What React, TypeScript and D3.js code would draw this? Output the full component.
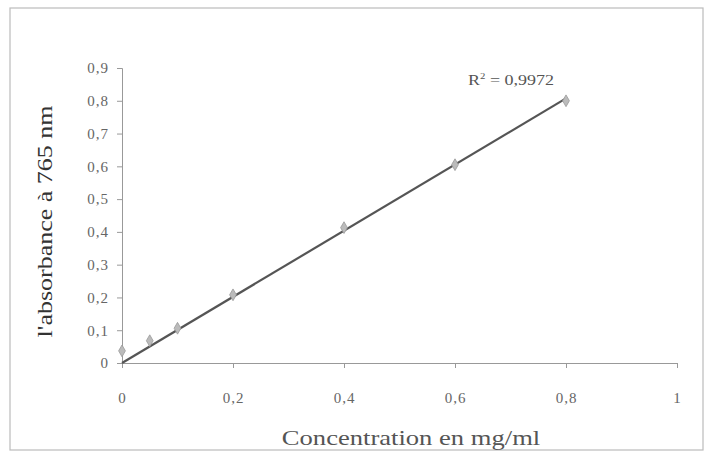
import React, { useEffect, useRef } from "react";
import * as d3 from "d3";

// standard points
const concentrations = [0, 0.05, 0.1, 0.2, 0.4, 0.6, 0.8];
const absorbances = [0.037, 0.068, 0.106, 0.208, 0.413, 0.605, 0.8];
const xTicks = [0, 0.2, 0.4, 0.6, 0.8, 1];
const yTicks = [0, 0.1, 0.2, 0.3, 0.4, 0.5, 0.6, 0.7, 0.8, 0.9];
const r2Label = "0,9972";

const W = 707;
const H = 458;
const fmt = (v: number) => String(v).replace(".", ",");

export default function App() {
  const ref = useRef<SVGSVGElement>(null);

  useEffect(() => {
    const svg = d3.select(ref.current);
    svg.selectAll("*").remove();

    const x = d3.scaleLinear().domain([0, 1]).range([122, 677]);
    const y = d3.scaleLinear().domain([0, 0.9]).range([363, 68]);

    // outer frame
    svg.append("rect")
      .attr("x", 10).attr("y", 8)
      .attr("width", 693).attr("height", 442)
      .attr("fill", "white")
      .attr("stroke", "#bbb")
      .attr("stroke-width", 1.2);

    const font = "'Liberation Serif', 'Times New Roman', serif";

    // y axis
    const yAxis = svg.append("g")
      .attr("transform", `translate(${x(0)},0)`)
      .call(d3.axisLeft(y).tickValues(yTicks).tickSize(5).tickPadding(8).tickFormat(d => fmt(+d)));
    // x axis
    const xAxis = svg.append("g")
      .attr("transform", `translate(0,${y(0)})`)
      .call(d3.axisBottom(x).tickValues(xTicks).tickSize(5).tickPadding(24).tickFormat(d => fmt(+d)));

    [yAxis, xAxis].forEach(g => {
      g.selectAll("path").attr("stroke", "#999").attr("stroke-width", 1);
      g.selectAll("line").attr("stroke", "#999");
      g.selectAll("text")
        .attr("fill", "#666")
        .attr("font-family", font)
        .attr("font-size", 15)
        .attr("letter-spacing", 1);
    });

    // linear fit through origin
    const slope = d3.sum(concentrations, (c, i) => c * absorbances[i]) /
      d3.sum(concentrations, c => c * c);
    const xMax = d3.max(concentrations) as number;
    svg.append("line")
      .attr("x1", x(0)).attr("y1", y(0))
      .attr("x2", x(xMax)).attr("y2", y(slope * xMax))
      .attr("stroke", "#555")
      .attr("stroke-width", 2.2);

    // diamond markers
    const diamond = d3.symbol().type(d3.symbolDiamond).size(40);
    svg.append("g")
      .selectAll("path")
      .data(concentrations)
      .enter()
      .append("path")
      .attr("d", diamond)
      .attr("transform", (c, i) => `translate(${x(c)},${y(absorbances[i])})`)
      .attr("fill", "#bbb")
      .attr("stroke", "#999")
      .attr("stroke-width", 0.8);

    // R² label
    const r2 = svg.append("text")
      .attr("transform", "translate(468,85) scale(1.2,1)")
      .attr("font-family", font)
      .attr("font-size", 15)
      .attr("fill", "#555");
    r2.append("tspan").text("R");
    r2.append("tspan").attr("dy", -6).attr("font-size", 9).text("2");
    r2.append("tspan").attr("dy", 6).text(` = ${r2Label}`);

    // axis titles (glyphs stretched along the baseline like the scan)
    svg.append("text")
      .attr("transform", `translate(52,${(y(0) + y(0.9)) / 2 + 6}) rotate(-90) scale(1.3,1)`)
      .attr("text-anchor", "middle")
      .attr("font-family", font)
      .attr("font-size", 20)
      .attr("fill", "#333")
      .text("l'absorbance à 765 nm");

    svg.append("text")
      .attr("transform", "translate(411,445) scale(1.33,1)")
      .attr("text-anchor", "middle")
      .attr("font-family", font)
      .attr("font-size", 20)
      .attr("fill", "#555")
      .text("Concentration en mg/ml");
  }, []);

  return (
    <svg ref={ref} width={W} height={H}
      style={{ position: "absolute", left: 0, top: 0, background: "white" }} />
  );
}
